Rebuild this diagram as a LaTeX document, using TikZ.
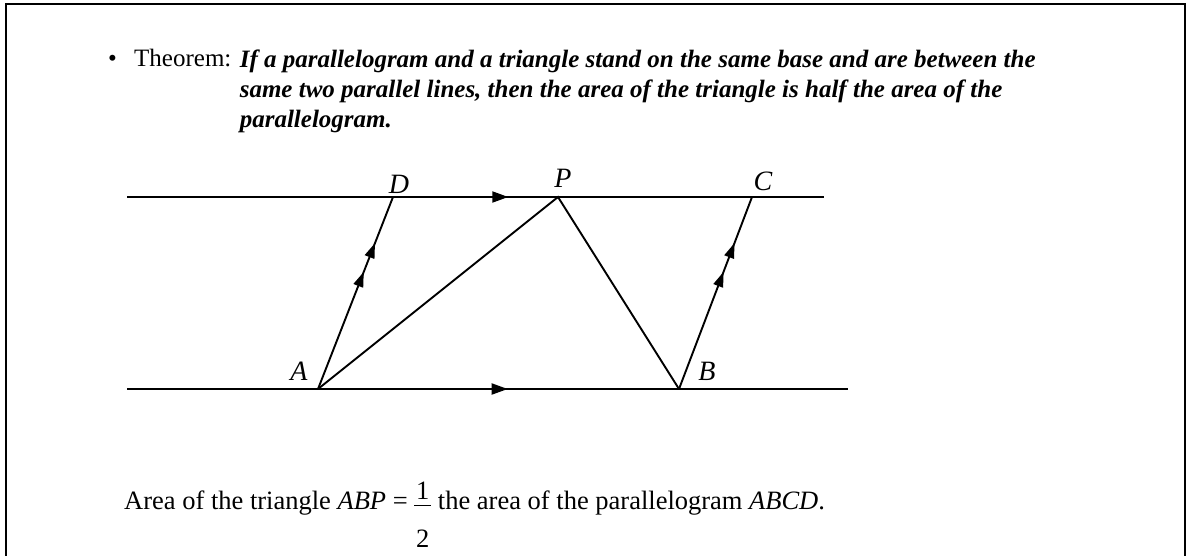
\documentclass[tikz,border=0pt]{standalone}
\usepackage{fontspec}
\setmainfont{Liberation Serif}
\usetikzlibrary{arrows.meta,positioning,decorations.markings}
\tikzset{
  frameline/.style={line width=2.4pt},
  geoline/.style={line width=1.9pt},
  ptlabel/.style={font=\fontsize{28}{28}\selectfont\itshape, inner sep=0pt},
  bodytext/.style={font=\fontsize{25}{30}\selectfont, inner sep=0pt},
  resulttext/.style={font=\fontsize{26.5}{30}\selectfont, inner sep=0pt},
  midarrow/.style={postaction={decorate}, decoration={markings,
    mark=at position #1 with {\arrow{Triangle[length=16pt,width=11pt]}}}},
  pairarrow/.style={postaction={decorate}, decoration={markings,
    mark=at position 0.61 with {\arrow{Triangle[length=15pt,width=10pt]}},
    mark=at position 0.76 with {\arrow{Triangle[length=15pt,width=10pt]}}}}
}
\newcommand{\halffrac}{\raisebox{10pt}{\vtop{\hbox to 17pt{\hss 1\hss}\kern6pt
  \hrule height 1pt\kern24pt\hbox to 17pt{\hss 2\hss}}}}

\begin{document}
\begin{tikzpicture}[x=1pt,y=-1pt]
  \useasboundingbox (0,0) rectangle (1188,556);
  % frame
  \draw[frameline] (6,556) -- (6,4) -- (1185,4) -- (1185,556);

  % theorem
  \node[bodytext, anchor=base west] (bul) at (108,67) {\textbullet};
  \node[bodytext, anchor=base west] (thm) at (134,67) {Theorem:};
  \node[bodytext, anchor=north west, align=left] (thmtxt) at ([xshift=8pt]thm.north east)
    {\textbf{\textit{If a parallelogram and a triangle stand on the same base and are between the}}\\
     \textbf{\textit{same two parallel lines, then the area of the triangle is half the area of the}}\\
     \textbf{\textit{parallelogram.}}};

  % points
  \coordinate (A) at (318,389);
  \coordinate (B) at (679,389);
  \coordinate (C) at (752,197);
  \coordinate (D) at (393,197);
  \coordinate (P) at (558,197);
  \coordinate (topL) at (127,197);
  \coordinate (topR) at (824,197);
  \coordinate (botL) at (127,389);
  \coordinate (botR) at (848,389);

  % parallel lines
  \draw[geoline, midarrow=0.547] (topL) -- (topR);
  \draw[geoline, midarrow=0.528] (botL) -- (botR);

  % parallelogram sides and triangle
  \draw[geoline, pairarrow] (A) -- (D);
  \draw[geoline, pairarrow] (B) -- (C);
  \draw[geoline] (A) -- (P) -- (B);

  % labels
  \node[ptlabel] (lblA) at (299,371) {A};
  \node[ptlabel] (lblB) at (707,371) {B};
  \node[ptlabel] (lblC) at (763,181) {C};
  \node[ptlabel] (lblD) at (399,184) {D};
  \node[ptlabel] (lblP) at (563,178) {P};

  % result
  \node[resulttext, anchor=base west] (result) at (124,509)
    {Area of the triangle \textit{ABP} = \halffrac\ the area of the parallelogram \textit{ABCD}.};
\end{tikzpicture}
\end{document}
